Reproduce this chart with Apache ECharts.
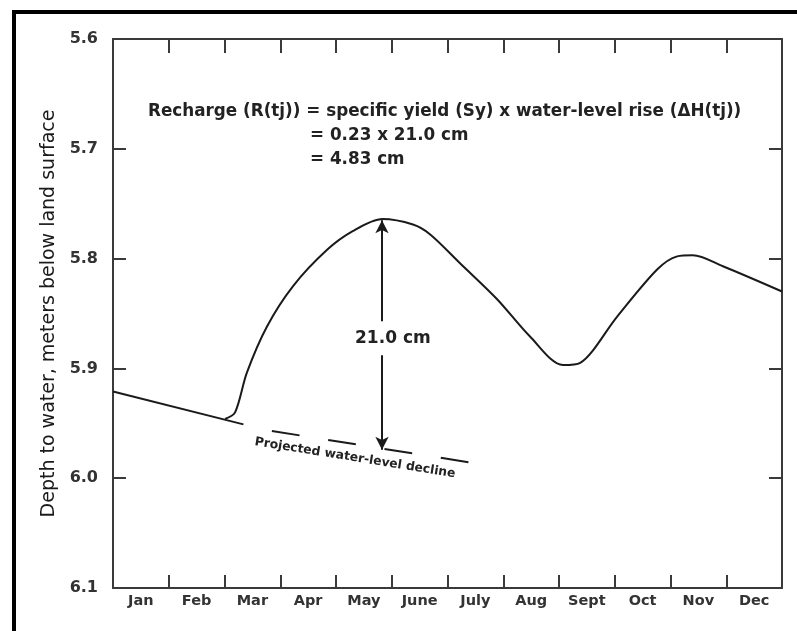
<!DOCTYPE html>
<html>
<head>
<meta charset="utf-8">
<script src="https://cdn.jsdelivr.net/npm/echarts@6/dist/echarts.min.js"></script>
<style>
  html, body { margin: 0; padding: 0; background: #fff; }
  #chart { width: 797px; height: 631px; }
</style>
</head>
<body>
<div id="chart"></div>
<script>
// months on the x axis, depths in meters below land surface
const months = ['Jan', 'Feb', 'Mar', 'Apr', 'May', 'June', 'July', 'Aug', 'Sept', 'Oct', 'Nov', 'Dec'];
const yTicks = [5.6, 5.7, 5.8, 5.9, 6.0, 6.1];

// decline before recharge (x = months since Jan 1)
const declineX = [0, 2.34];
const declineY = [5.921, 5.951];

// hydrograph after recharge starts
const riseX = [2.01, 2.19, 2.40, 2.76, 3.23, 3.84, 4.30, 4.83, 5.38, 5.69, 6.22, 6.89, 7.48, 8.07, 8.38, 9.04, 9.76, 10.12, 10.40, 10.94, 12.0];
const riseY = [5.946, 5.940, 5.904, 5.862, 5.825, 5.792, 5.775, 5.764, 5.769, 5.778, 5.804, 5.837, 5.871, 5.897, 5.895, 5.853, 5.810, 5.798, 5.797, 5.807, 5.830];

// projected water-level decline
const projX = [2.85, 6.44];
const projY = [5.957, 5.986];

// rise measurement arrow
const arrowX = 4.825;
const arrowTop = 5.765;
const arrowBottom = 5.974;
const gapTop = 5.857;
const gapBottom = 5.888;

const pairs = (xs, ys) => xs.map((x, i) => [x, ys[i]]);

const chartDom = document.getElementById('chart');
const chart = echarts.init(chartDom);

const axisColor = '#3a3a3a';
const tickStyle = { color: axisColor, width: 2 };

let option = {
    animation: false,
    grid: {
        left: 113,
        right: 15,
        top: 39,
        bottom: 43
    },
    xAxis: [
        {
            type: 'category',
            data: months,
            position: 'bottom',
            boundaryGap: true,
            axisLine: { show: true, lineStyle: tickStyle },
            axisTick: { show: true, interval: 0, inside: true, length: 13, lineStyle: tickStyle },
            axisLabel: {
                interval: 0,
                margin: 6,
                fontFamily: 'DejaVu Sans',
                fontWeight: 'bold',
                fontSize: 14.5,
                color: '#333'
            }
        },
        {
            type: 'value',
            min: 0,
            max: 12,
            show: false
        },
        {
            type: 'category',
            data: months,
            position: 'top',
            boundaryGap: true,
            axisLine: { show: true, lineStyle: tickStyle },
            axisTick: { show: true, interval: 0, inside: true, length: 14, lineStyle: tickStyle },
            axisLabel: { show: false }
        }
    ],
    yAxis: [
        {
            type: 'value',
            inverse: true,
            min: yTicks[0],
            max: yTicks[yTicks.length - 1],
            interval: 0.1,
            name: 'Depth to water, meters below land surface',
            nameLocation: 'middle',
            nameGap: 52,
            nameTextStyle: {
                fontFamily: 'DejaVu Sans',
                fontSize: 19,
                color: '#1a1a1a'
            },
            splitLine: { show: false },
            axisLine: { show: true, lineStyle: tickStyle },
            axisTick: { show: true, inside: true, length: 13, lineStyle: tickStyle },
            axisLabel: {
                margin: 15,
                fontFamily: 'DejaVu Sans',
                fontWeight: 'bold',
                fontSize: 16,
                color: '#333',
                formatter: function (val) {
                    return val.toFixed(1);
                }
            }
        },
        {
            type: 'value',
            inverse: true,
            position: 'right',
            min: yTicks[0],
            max: yTicks[yTicks.length - 1],
            interval: 0.1,
            splitLine: { show: false },
            axisLine: { show: true, lineStyle: tickStyle },
            axisTick: { show: true, inside: true, length: 13, lineStyle: tickStyle },
            axisLabel: { show: false }
        }
    ],
    graphic: [
        {
            type: 'rect',
            shape: { x: 14, y: 12, width: 800, height: 640 },
            style: { fill: 'none', stroke: '#000', lineWidth: 4 },
            silent: true
        },
        {
            type: 'text',
            x: 148,
            y: 112,
            style: {
                text: 'Recharge (R(tj)) = specific yield (Sy) x water-level rise (\u0394H(tj))',
                fontFamily: 'DejaVu Sans',
                fontWeight: 'bold',
                fontSize: 16.8,
                fill: '#222',
                verticalAlign: 'middle'
            }
        },
        {
            type: 'text',
            x: 310,
            y: 136,
            style: {
                text: '= 0.23 x 21.0 cm',
                fontFamily: 'DejaVu Sans',
                fontWeight: 'bold',
                fontSize: 16.8,
                fill: '#222',
                verticalAlign: 'middle'
            }
        },
        {
            type: 'text',
            x: 310,
            y: 160,
            style: {
                text: '= 4.83 cm',
                fontFamily: 'DejaVu Sans',
                fontWeight: 'bold',
                fontSize: 16.8,
                fill: '#222',
                verticalAlign: 'middle'
            }
        },
        {
            type: 'text',
            x: 355,
            y: 458,
            rotation: -0.16,
            style: {
                text: 'Projected water-level decline',
                fontFamily: 'DejaVu Sans',
                fontWeight: 'bold',
                fontSize: 12.3,
                fill: '#222',
                align: 'center',
                verticalAlign: 'middle'
            }
        }
    ],
    series: [
        {
            name: 'Decline',
            type: 'line',
            xAxisIndex: 1,
            yAxisIndex: 0,
            symbol: 'none',
            lineStyle: { color: '#1a1a1a', width: 2 },
            data: pairs(declineX, declineY)
        },
        {
            name: 'Water level',
            type: 'line',
            xAxisIndex: 1,
            yAxisIndex: 0,
            symbol: 'none',
            smooth: 0.3,
            lineStyle: { color: '#1a1a1a', width: 2 },
            data: pairs(riseX, riseY)
        },
        {
            name: 'Projected',
            type: 'line',
            xAxisIndex: 1,
            yAxisIndex: 0,
            symbol: 'none',
            lineStyle: { color: '#1a1a1a', width: 2, type: [28, 29] },
            data: pairs(projX, projY),
            markLine: {
                silent: true,
                symbol: ['none', 'arrow'],
                symbolSize: [10, 13],
                label: { show: false },
                lineStyle: { color: '#1a1a1a', width: 2, type: 'solid' },
                data: [
                    [{ coord: [arrowX, gapTop] }, { coord: [arrowX, arrowTop] }],
                    [{ coord: [arrowX, gapBottom] }, { coord: [arrowX, arrowBottom] }]
                ]
            },
            markPoint: {
                silent: true,
                symbol: 'circle',
                symbolSize: 0,
                label: {
                    show: true,
                    position: 'inside',
                    formatter: '21.0 cm',
                    fontFamily: 'DejaVu Sans',
                    fontWeight: 'bold',
                    fontSize: 17,
                    color: '#222'
                },
                data: [{ coord: [5.02, (gapTop + gapBottom) / 2] }]
            }
        }
    ]
};

option && chart.setOption(option);
</script>
</body>
</html>
